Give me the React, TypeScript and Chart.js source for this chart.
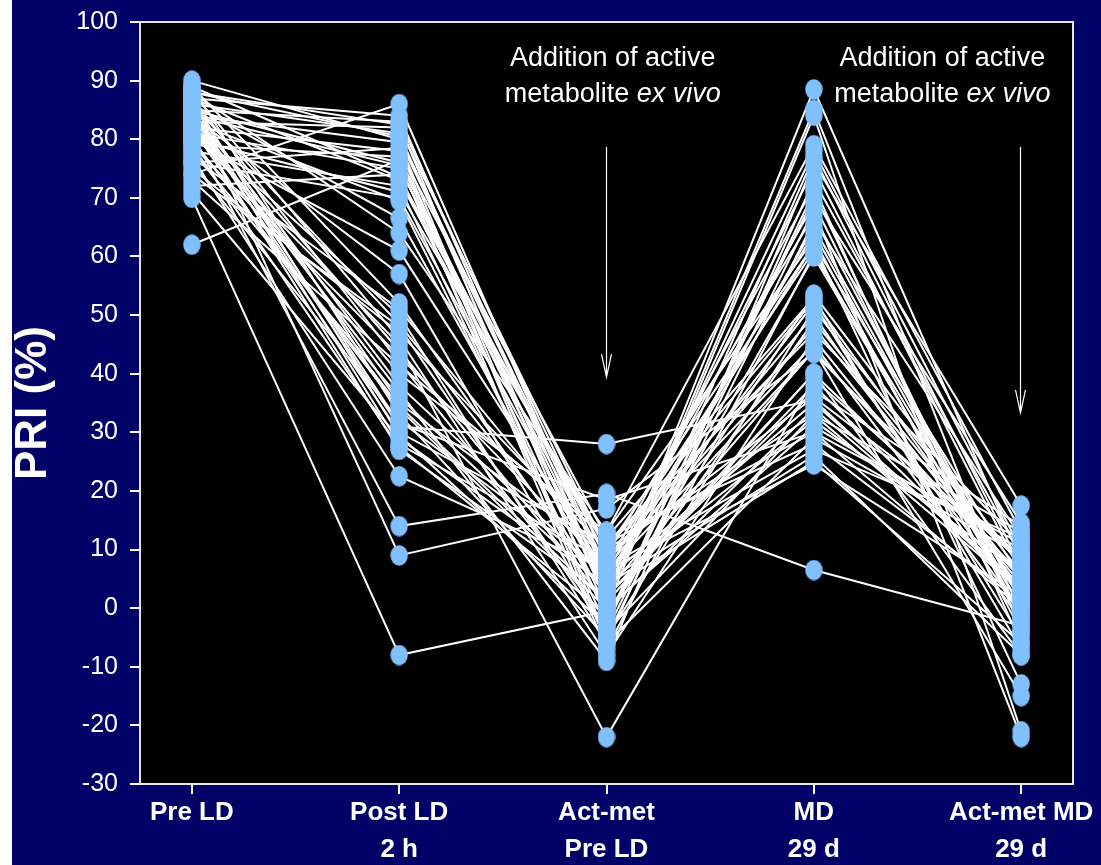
import React, { useEffect, useRef } from 'react';
import { Chart, registerables } from 'chart.js';

Chart.register(...registerables);

// ---- Data ----
const categoryLabels: string[][] = [
  ['Pre LD'],
  ['Post LD', '2 h'],
  ['Act-met', 'Pre LD'],
  ['MD', '29 d'],
  ['Act-met MD', '29 d'],
];

const preLD = [74, 87, 85, 88, 83, 86, 90, 84, 82, 79, 62, 85, 81, 72, 87, 78, 80, 76, 83, 86, 88, 80, 84, 89, 77, 82, 86, 75, 88, 81, 84, 79, 87, 73, 85, 83, 78, 86, 80, 89, 76, 84, 82, 87, 71, 85, 79, 83, 77, 81, 86, 70, 88, 76, 84, 89, 74, 82, 80, 85];
const postLD2h = [86, 84, 83, 82.5, 82, 81, 80, 79.5, 78, 77, 76.5, 76, 75, 74, 73, 72, 71, 70, 69.5, 66.5, 64, 61, 57, 52, 51, 50, 48.5, 47, 46, 45, 44, 43, 42, 41.5, 38, 37, 36, 35, 34, 33, 32, 31, 30, 29.5, 29, 28, 27.5, 27, 22.5, 14, 9, -8, 80.5, 78.5, 75.5, 73.5, 48, 40, 34.5, 31.5];
const actMetPreLD = [5, 3, 8, -2, 10, 1, 6, -5, 12, 4, 2, -7, 9, 0, 7, -3, 11, 5, -1, 3, 13, 6, -4, 2, 8, -6, 4, 10, -8, -22, 1, 7, -2, 12, 5, -9, 3, 9, 0, -5, 6, 28, 11, -3, 4, 8, -1, 2, 6.5, 19.5, 17, -0.5, 7, -6, 3, 10, -4, 13, 1, 18.5];
const md29d = [62, 78, 45, 70, 33, 88.5, 52, 66, 28, 75, 40, 60.5, 36, 84, 48, 71, 30, 64, 53.5, 25, 79, 44, 68, 38, 50, 73, 32, 62, 46, 39, 85, 27, 60, 53, 35, 76, 44, 67, 31, 51, 69, 35.5, 47, 77, 26, 61, 49, 37, 24.5, 6.5, 43.5, 34, 72, 29, 65, 52.5, 33, 63, 40, 30];
const actMetMD29d = [5, 10, -2, 14.5, 3, 8, -5, 12, 1, 6, -8, 2, 9, -21, 4, -3, 11, 0, 7, -6, 13, 5, -22, 3, -1, 9, 6, -13, 2, 8, -4, 12, 0, -7, 4, 17.5, -15, 1, 10, 6, -2, 3, 11, 7, -8, -1, 5, 14, 2, -3, 8, 4, -6, 9, 1, 3, 13, -4, 6, 0];

const yMin = -30;
const yMax = 100;
const yStep = 10;
const yTitle = 'PRI (%)';

const annotationLine1 = 'Addition of active';
const annotationLine2Plain = 'metabolite ';
const annotationLine2Italic = 'ex vivo';

// annotation placement (in data units)
const annotations = [
  { textX: 2.03, arrowX: 2, arrowTop: 78.7, arrowTip: 39.4 },
  { textX: 3.62, arrowX: 4, arrowTop: 78.7, arrowTip: 33.3 },
];

const FONT = "'Liberation Sans', Arial, Helvetica, sans-serif";
const NAVY = '#000066';
const DOT = '#80C0FF';

function makeDot(): HTMLCanvasElement {
  const c = document.createElement('canvas');
  c.width = 18;
  c.height = 21;
  const g = c.getContext('2d')!;
  g.fillStyle = DOT;
  g.beginPath();
  g.ellipse(9, 10.5, 8.7, 10.2, 0, 0, Math.PI * 2);
  g.fill();
  return c;
}

const decorPlugin = {
  id: 'decor',
  beforeDraw(chart: any) {
    const { ctx, chartArea: a } = chart;
    ctx.save();
    ctx.fillStyle = NAVY;
    ctx.fillRect(0, 0, chart.width, chart.height);
    ctx.fillStyle = '#000000';
    ctx.fillRect(a.left, a.top, a.right - a.left, a.bottom - a.top);
    ctx.restore();
  },
  afterDraw(chart: any) {
    const { ctx, chartArea: a } = chart;
    const xs = chart.scales.x;
    const ys = chart.scales.y;
    ctx.save();
    ctx.strokeStyle = '#e6e6e6';
    ctx.lineWidth = 2;
    ctx.strokeRect(a.left, a.top, a.right - a.left, a.bottom - a.top);

    ctx.fillStyle = '#ffffff';
    ctx.textBaseline = 'alphabetic';
    for (const an of annotations) {
      const cx = xs.getPixelForValue(an.textX);
      const b1 = ys.getPixelForValue(92.5);
      const b2 = ys.getPixelForValue(86.35);
      ctx.font = `27px ${FONT}`;
      ctx.textAlign = 'center';
      ctx.fillText(annotationLine1, cx, b1);
      ctx.textAlign = 'left';
      const wPlain = ctx.measureText(annotationLine2Plain).width;
      ctx.font = `italic 27px ${FONT}`;
      const wIt = ctx.measureText(annotationLine2Italic).width;
      const start = cx - (wPlain + wIt) / 2;
      ctx.font = `27px ${FONT}`;
      ctx.fillText(annotationLine2Plain, start, b2);
      ctx.font = `italic 27px ${FONT}`;
      ctx.fillText(annotationLine2Italic, start + wPlain, b2);

      const ax = Math.round(xs.getPixelForValue(an.arrowX)) - 0.5;
      const top = ys.getPixelForValue(an.arrowTop);
      const tip = ys.getPixelForValue(an.arrowTip);
      ctx.strokeStyle = '#ffffff';
      ctx.lineWidth = 1.2;
      ctx.beginPath();
      ctx.moveTo(ax, top);
      ctx.lineTo(ax, tip);
      ctx.moveTo(ax - 5, tip - 23);
      ctx.lineTo(ax, tip);
      ctx.lineTo(ax + 5, tip - 23);
      ctx.stroke();
    }
    ctx.restore();
  },
};

export default function App() {
  const ref = useRef<HTMLCanvasElement | null>(null);

  useEffect(() => {
    document.body.style.margin = '0';
    const canvas = ref.current;
    if (!canvas) return;
    const dot = makeDot();
    const series = [preLD, postLD2h, actMetPreLD, md29d, actMetMD29d];
    const n = preLD.length;

    const pointData: { x: number; y: number }[] = [];
    series.forEach((arr, k) => arr.forEach((v) => pointData.push({ x: k, y: v })));

    const lineSets = [];
    for (let i = 0; i < n; i++) {
      lineSets.push({
        label: `Patient ${i + 1}`,
        data: series.map((arr, k) => ({ x: k, y: arr[i] })),
        borderColor: '#ffffff',
        borderWidth: 2,
        pointRadius: 0,
        pointHoverRadius: 0,
        fill: false,
        tension: 0,
      });
    }

    const chart = new Chart(canvas, {
      type: 'line',
      data: {
        datasets: [
          {
            label: 'Points',
            data: pointData,
            showLine: false,
            pointStyle: dot as any,
            pointRadius: 9,
            pointBackgroundColor: DOT,
            pointBorderWidth: 0,
          } as any,
          ...lineSets,
        ],
      },
      options: {
        animation: false,
        responsive: false,
        devicePixelRatio: 1,
        events: [],
        layout: { padding: { top: 22, right: 28, left: 0, bottom: 0 } },
        plugins: {
          legend: { display: false },
          tooltip: { enabled: false },
        },
        scales: {
          x: {
            type: 'linear',
            min: -0.25,
            max: 4.25,
            afterBuildTicks: (s: any) => {
              s.ticks = categoryLabels.map((_, i) => ({ value: i }));
            },
            afterFit: (s: any) => {
              s.height = 81;
              s.paddingLeft = 0;
              s.paddingRight = 0;
            },
            grid: {
              display: true,
              drawOnChartArea: false,
              drawTicks: true,
              tickLength: 10,
              color: '#ffffff',
              lineWidth: 2,
            },
            border: { display: false },
            ticks: {
              padding: 0,
              maxRotation: 0,
              autoSkip: false,
              color: '#ffffff',
              font: { family: FONT, size: 26, weight: 'bold', lineHeight: 1.42 },
              callback: (v: any) => categoryLabels[Math.round(Number(v))] ?? '',
            },
          },
          y: {
            type: 'linear',
            min: yMin,
            max: yMax,
            afterFit: (s: any) => {
              s.width = 128;
              s.paddingTop = 0;
              s.paddingBottom = 0;
            },
            grid: {
              display: true,
              drawOnChartArea: false,
              drawTicks: true,
              tickLength: 10,
              color: '#ffffff',
              lineWidth: 2,
            },
            border: { display: false },
            ticks: {
              stepSize: yStep,
              padding: 12,
              color: '#ffffff',
              font: { family: FONT, size: 25 },
            },
            title: {
              display: true,
              text: yTitle,
              color: '#ffffff',
              padding: { top: 0, bottom: 0 },
              font: { family: FONT, size: 44, weight: 'bold', lineHeight: 1.0 },
            },
          },
        },
      },
      plugins: [decorPlugin],
    });
    return () => chart.destroy();
  }, []);

  return (
    <div style={{ marginLeft: 12, width: 1089, height: 865, background: NAVY }}>
      <canvas ref={ref} width={1089} height={865} style={{ display: 'block' }} />
    </div>
  );
}
